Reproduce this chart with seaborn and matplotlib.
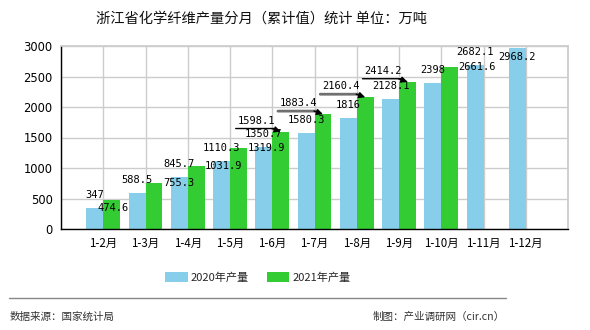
import matplotlib
matplotlib.use("Agg")
import matplotlib.pyplot as plt
import matplotlib.transforms as mtransforms
import seaborn as sns
import pandas as pd
import numpy as np

months = ["1-2月", "1-3月", "1-4月", "1-5月", "1-6月", "1-7月", "1-8月",
          "1-9月", "1-10月", "1-11月", "1-12月"]
prod_2020 = [347, 588.5, 845.7, 1110.3, 1350.7, 1580.3, 1816, 2128.1, 2398, 2682.1, 2968.2]
prod_2021 = [474.6, 755.3, 1031.9, 1319.9, 1598.1, 1883.4, 2160.4, 2414.2, 2661.6, np.nan, np.nan]
series_names = ["2020年产量", "2021年产量"]
labels_2020 = ["347", "588.5", "845.7", "1110.3", "1350.7", "1580.3", "1816", "2128.1", "2398", "2682.1", "2968.2"]
labels_2021 = ["474.6", "755.3", "1031.9", "1319.9", "1598.1", "1883.4", "2160.4", "2414.2", "2661.6"]
callout_idx = [4, 5, 6, 7]
title = "浙江省化学纤维产量分月（累计值）统计 单位：万吨"
source = "数据来源：国家统计局"
maker = "制图：产业调研网（cir.cn）"

BLUE = "#87CEEB"
GREEN = "#33CC33"

sns.set_theme(style="white")
plt.rcParams['font.family'] = ['Noto Sans CJK SC', 'DejaVu Sans']

df = pd.DataFrame({
    "month": months * 2,
    "value": prod_2020 + prod_2021,
    "series": [series_names[0]] * len(months) + [series_names[1]] * len(months),
})

fig = plt.figure(figsize=(5.9, 3.3), dpi=100)
ax = fig.add_axes([61/590, 1 - 229/330, (568 - 61)/590, (229 - 46)/330])

sns.barplot(data=df, x="month", y="value", hue="series", order=months,
            hue_order=series_names, palette=[BLUE, GREEN], saturation=1,
            width=0.8, errorbar=None, ax=ax, legend=False, zorder=2,
            linewidth=0, edgecolor="none")

ax.set_xlim(-1, len(months))
ax.set_ylim(0, 3000)
ax.set_yticks(np.arange(0, 3001, 500))
ax.set_yticklabels([str(v) for v in range(0, 3001, 500)], fontsize=8.3, family='DejaVu Sans')
ax.set_xticks(np.arange(-1, len(months) + 1))
ax.set_xticklabels([""] + months + [""], fontsize=8.3)
ax.set_xlabel("")
ax.set_ylabel("")
ax.grid(True, color="#cccccc", lw=1, zorder=0)
ax.set_axisbelow(True)
for s in ["top", "right"]:
    ax.spines[s].set_color("#cccccc")
for s in ["left", "bottom"]:
    ax.spines[s].set_color("black")
    ax.spines[s].set_linewidth(1)
ax.tick_params(axis="both", which="major", direction="out", length=4, width=1,
               color="black", pad=2, labelcolor="black")

lab_font = dict(fontsize=7.5, family="DejaVu Sans Mono", color="black")


def shifted(dx, dy):
    return ax.transData + mtransforms.ScaledTranslation(dx / 100, dy / 100, fig.dpi_scale_trans)


# 2020 labels
for i, (v, t) in enumerate(zip(prod_2020, labels_2020)):
    xc = i - 0.2
    if v > 2800:
        ax.annotate(t, (xc, v), xytext=(0, -4), textcoords="offset pixels",
                    ha="center", va="top", zorder=5, **lab_font)
    else:
        ax.annotate(t, (xc, v), xytext=(0, 8), textcoords="offset pixels",
                    ha="center", va="bottom", zorder=5, **lab_font)

# 2021 labels
for i, t in enumerate(labels_2021):
    v = prod_2021[i]
    xc = i + 0.2
    if i in callout_idx:
        thick = i in (5, 6)
        col = "#707070" if thick else "black"
        # horizontal leader line
        ax.annotate("", xy=(xc, v), xycoords=shifted(-6, 3),
                    xytext=(xc, v), textcoords=shifted(-45, 3),
                    arrowprops=dict(arrowstyle="-", color=col, lw=2 if thick else 1,
                                    shrinkA=0, shrinkB=0), zorder=6)
        # arrow head
        ax.annotate("", xy=(xc, v), xytext=(-9, 3), textcoords="offset pixels",
                    arrowprops=dict(arrowstyle="-|>", color="black", lw=1,
                                    shrinkA=0, shrinkB=0, mutation_scale=9), zorder=7)
        ax.annotate(t, (xc, v), xytext=(-24, 6), textcoords="offset pixels",
                    ha="center", va="bottom", zorder=6, **lab_font)
    else:
        dx = -14 if i == 0 else 9
        dy = -8 if i == 0 else 0
        ax.annotate(t, (xc, v), xytext=(dx, dy), textcoords="offset pixels",
                    ha="left", va="center", zorder=5, **lab_font)

# title
fig.text(261/590, 1 - 18.5/330, title, ha="center", va="center", fontsize=10.3, color="#111111")

# legend
from matplotlib.patches import Patch
handles = [Patch(facecolor=BLUE, edgecolor="none"), Patch(facecolor=GREEN, edgecolor="none")]
fig.legend(handles, series_names, loc="center", bbox_to_anchor=(258/590, 1 - 277.5/330),
           ncol=2, frameon=False, fontsize=8, handlelength=2.0, handleheight=0.9,
           columnspacing=1.6, handletextpad=0.3)

# separator and footer
fig.add_artist(plt.Line2D([9/590, 506/590], [1 - 298/330, 1 - 298/330],
                          color="#888888", lw=1))
fig.text(10/590, 1 - 317/330, source, ha="left", va="center", fontsize=7.6, color="#333333")
fig.text(505/590, 1 - 317/330, maker, ha="right", va="center", fontsize=7.6, color="#333333")

fig.savefig("out.png", dpi=100)
